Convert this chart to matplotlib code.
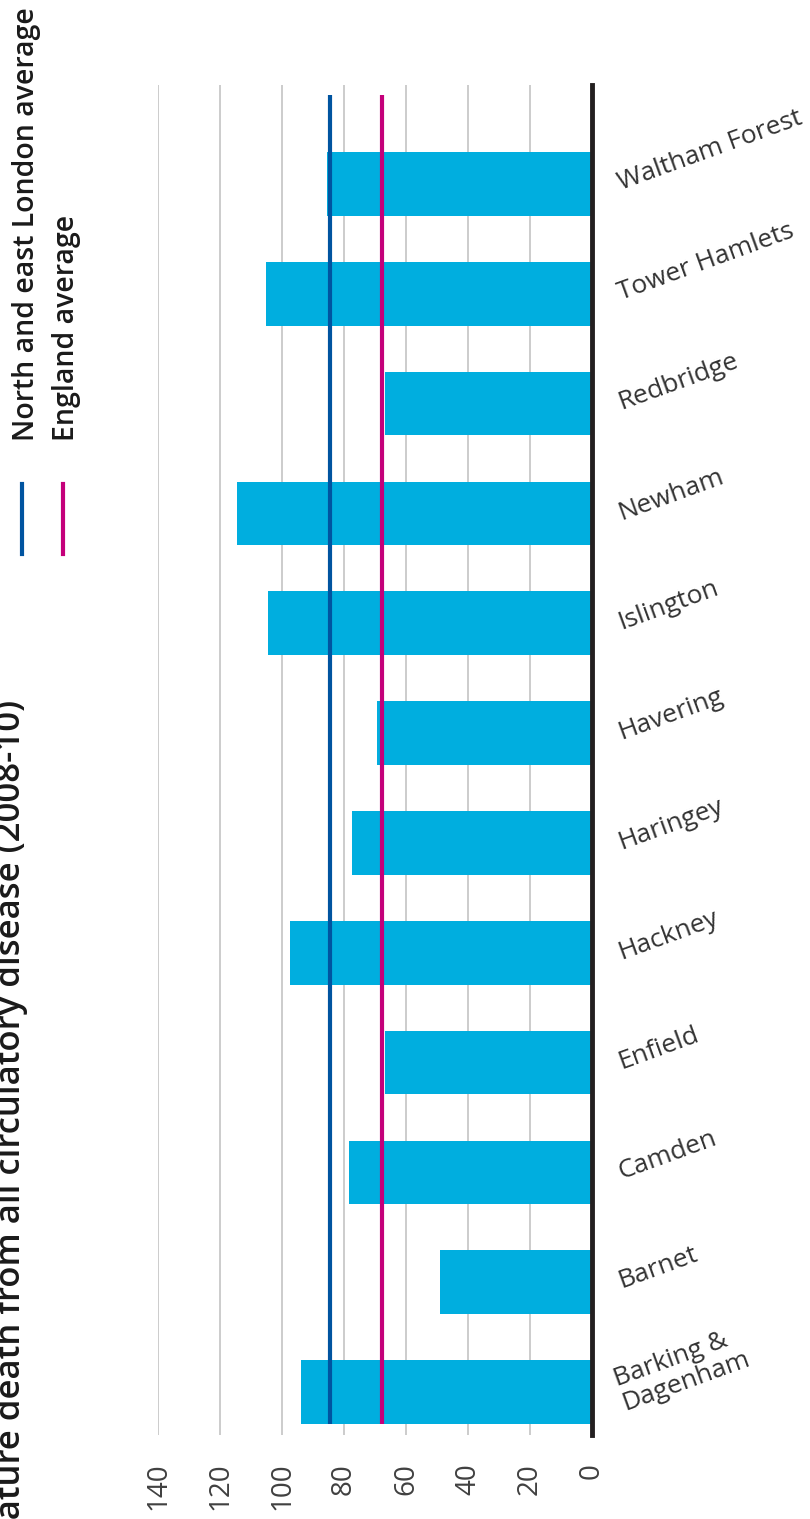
import matplotlib.pyplot as plt

boroughs = ["Barking &\nDagenham", "Barnet", "Camden", "Enfield", "Hackney",
            "Haringey", "Havering", "Islington", "Newham", "Redbridge",
            "Tower Hamlets", "Waltham Forest"]
rates = [93.9, 49.0, 78.4, 66.8, 97.4, 77.4, 69.4, 104.5, 114.5, 66.8, 105.2, 85.5]
nel_average = 84.5
england_average = 67.7
ticks = [0, 20, 40, 60, 80, 100, 120, 140]

BAR = "#00aedf"
NEL = "#0054a0"
ENG = "#c4007a"
FONT = ["Open Sans", "DejaVu Sans"]


def main():
    plt.rcParams['font.family'] = FONT
    fig = plt.figure(figsize=(8.1, 15.19), dpi=100)
    ax = fig.add_axes([158 / 810, 1 - 1435 / 1519, (592 - 158) / 810, (1435 - 85) / 1519])

    pos = list(range(len(boroughs)))
    ax.barh(pos, rates, height=0.58, color=BAR, zorder=2)
    ax.vlines(nel_average, -0.29, 11.81, color=NEL, lw=3, zorder=3)
    ax.vlines(england_average, -0.29, 11.81, color=ENG, lw=3, zorder=3)
    ax.axvline(0, color="#231f20", lw=3.5, zorder=4, clip_on=False)

    ax.set_xlim(140, 0)
    ax.set_ylim(-0.39, 11.9)
    ax.set_xticks(ticks)
    ax.set_xticklabels([str(t) for t in ticks], rotation=90, color="#404040", fontsize=20)
    ax.grid(axis="x", color="#c8c8c8", lw=1.3, zorder=0)
    ax.set_axisbelow(True)
    for s in ax.spines.values():
        s.set_visible(False)
    ax.tick_params(axis="x", length=0, pad=20)

    ax.set_yticks(pos)
    ax.set_yticklabels(boroughs, fontsize=19, color="#333333")
    ax.tick_params(axis="y", left=False, right=False, labelleft=False,
                   labelright=True, pad=16)
    for lab in ax.get_yticklabels():
        lab.set_rotation(20)
        lab.set_rotation_mode("anchor")
        lab.set_ha("left")
        lab.set_va("center")
        lab.set_linespacing(1.0)

    # title, rotated and partly off the page
    fig.text(20 / 810, 1 - 700 / 1519,
             "Premature death from all circulatory disease (2008-10)",
             rotation=90, rotation_mode="anchor", ha="right", va="baseline",
             fontsize=25, fontweight="semibold", color="#1a1a1a")

    # legend
    fig.lines.append(plt.Line2D([22 / 810, 22 / 810], [1 - 554 / 1519, 1 - 484 / 1519],
                                transform=fig.transFigure, color=NEL, lw=3))
    fig.lines.append(plt.Line2D([63 / 810, 63 / 810], [1 - 554 / 1519, 1 - 484 / 1519],
                                transform=fig.transFigure, color=ENG, lw=3))
    fig.text(34 / 810, 1 - 441 / 1519, "North and east London average",
             rotation=90, rotation_mode="anchor", ha="left", va="baseline",
             fontsize=20.5, fontweight="semibold", color="#1a1a1a")
    fig.text(74 / 810, 1 - 441 / 1519, "England average",
             rotation=90, rotation_mode="anchor", ha="left", va="baseline",
             fontsize=20.5, fontweight="semibold", color="#1a1a1a")

    fig.savefig("out.png", dpi=100)
    plt.close()


if __name__ == '__main__':
    main()
